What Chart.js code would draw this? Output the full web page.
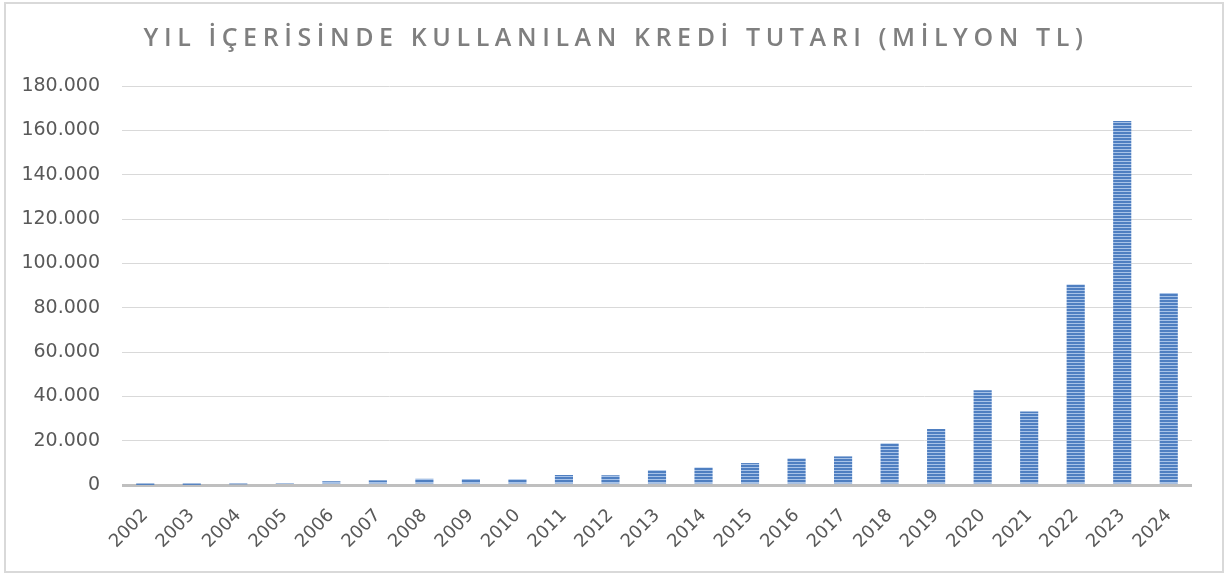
<!DOCTYPE html>
<html>
<head>
<meta charset="utf-8">
<script src="https://cdn.jsdelivr.net/npm/chart.js@4"></script>
<style>
  html, body { margin: 0; padding: 0; background: #fff; }
  #wrap { position: relative; width: 1227px; height: 575px; }
  #frame { position: absolute; left: 4px; top: 2px; width: 1216px; height: 567px; border: 2px solid #d9d9d9; pointer-events: none; }
</style>
</head>
<body>
<div id="wrap">
  <canvas id="chart" width="1227" height="575"></canvas>
  <div id="frame"></div>
</div>
<script>
const title = 'YIL İÇERİSİNDE KULLANILAN KREDİ TUTARI (MİLYON TL)';
const years = ['2002', '2003', '2004', '2005', '2006', '2007', '2008', '2009', '2010', '2011', '2012',
    '2013', '2014', '2015', '2016', '2017', '2018', '2019', '2020', '2021', '2022', '2023', '2024'];
const amounts = [20, 40, 300, 900, 1700, 2100, 2800, 2700, 2600, 4500, 4400,
    6700, 7900, 9900, 12000, 12900, 18800, 25300, 42700, 33200, 90500, 164200, 86600];
const yTicks = [0, 20000, 40000, 60000, 80000, 100000, 120000, 140000, 160000, 180000];

// striped fill like the office chart
function stripes() {
    const pc = document.createElement('canvas');
    pc.width = 4;
    pc.height = 3;
    const p = pc.getContext('2d');
    p.fillStyle = '#4f7fc1';
    p.fillRect(0, 0, 4, 2);
    p.fillStyle = '#a8c3e8';
    p.fillRect(0, 2, 4, 1);
    return p.createPattern(pc, 'repeat');
}

function fmt(v) {
    return String(v).replace(/\B(?=(\d{3})+(?!\d))/g, '.');
}

const titlePlugin = {
    id: 'spacedTitle',
    afterDraw(chart) {
        const ctx = chart.ctx;
        ctx.save();
        ctx.font = '600 25px "Open Sans"';
        ctx.fillStyle = '#7f7f7f';
        ctx.letterSpacing = '5.6px';
        ctx.textAlign = 'center';
        ctx.textBaseline = 'middle';
        ctx.fillText(title, 616, 39);
        ctx.restore();
    }
};

new Chart(document.getElementById('chart'), {
    type: 'bar',
    data: {
        labels: years,
        datasets: [{
            data: amounts,
            backgroundColor: stripes(),
            borderWidth: 0,
            barPercentage: 0.39,
            categoryPercentage: 1
        }]
    },
    options: {
        responsive: false,
        animation: false,
        layout: { padding: { top: 86, right: 35, left: 0, bottom: 0 } },
        plugins: {
            legend: { display: false },
            tooltip: { enabled: false }
        },
        scales: {
            x: {
                grid: { display: false },
                border: { display: false },
                ticks: {
                    color: '#595959',
                    font: { family: 'DejaVu Sans', size: 18 },
                    minRotation: 45,
                    maxRotation: 45,
                    padding: 12
                },
                afterFit: s => { s.height = 90; }
            },
            y: {
                min: 0,
                max: 180000,
                afterBuildTicks: s => { s.ticks = yTicks.map(v => ({ value: v })); },
                grid: {
                    drawTicks: false,
                    color: c => c.tick.value === 0 ? '#bfbfbf' : '#d9d9d9',
                    lineWidth: c => c.tick.value === 0 ? 3 : 1
                },
                border: { display: false },
                ticks: {
                    color: '#595959',
                    font: { family: 'DejaVu Sans', size: 19 },
                    padding: 22,
                    callback: v => fmt(v)
                },
                afterFit: s => { s.width = 122; }
            }
        }
    },
    plugins: [titlePlugin]
});
</script>
</body>
</html>
